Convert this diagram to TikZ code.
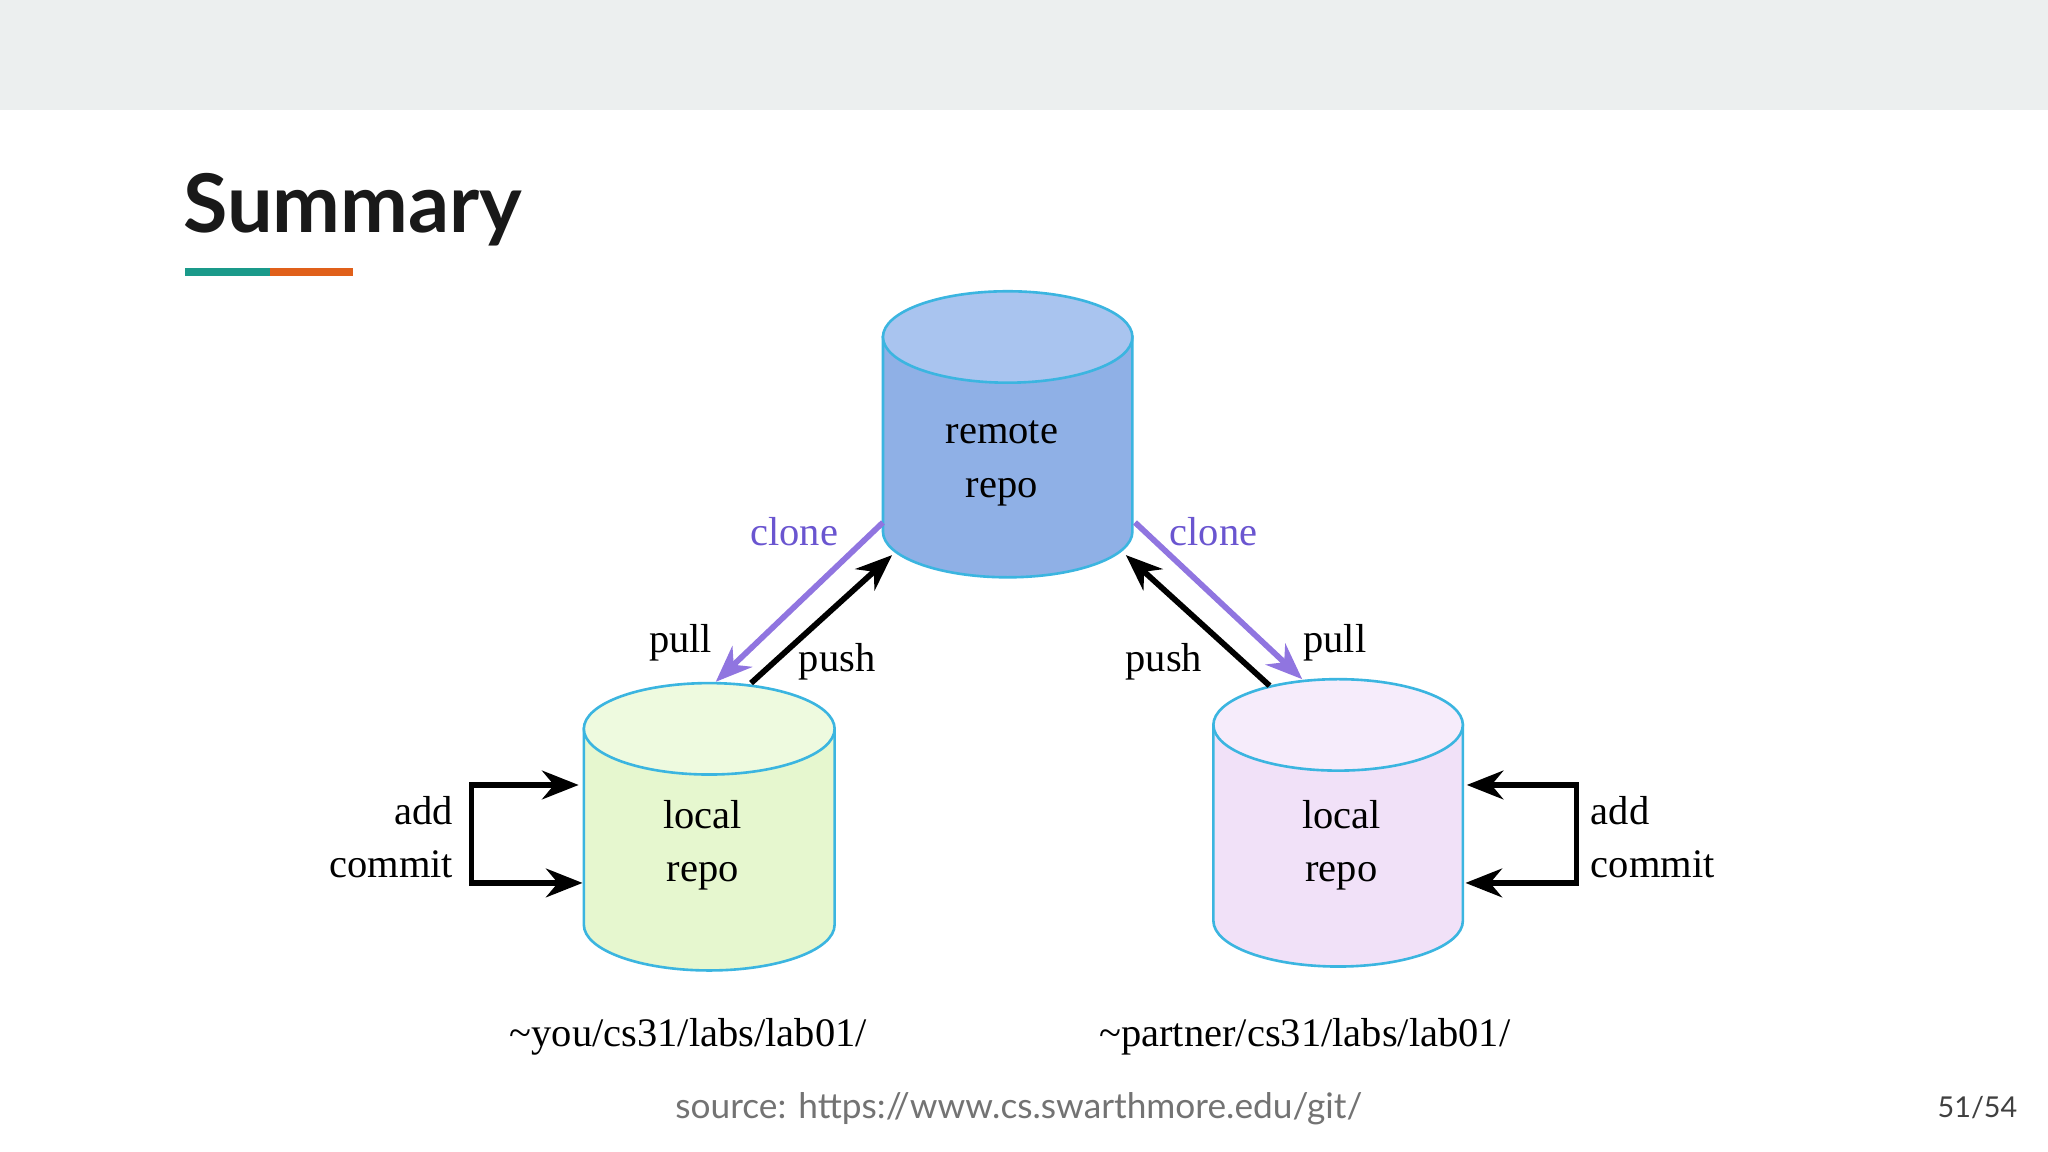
\documentclass[tikz,border=0pt]{standalone}
\usepackage{fontspec}
\setmainfont{Liberation Serif}
\newfontfamily\lato{Lato}
\usetikzlibrary{arrows.meta}
\definecolor{bar}{HTML}{ECEFEF}
\definecolor{teal}{HTML}{1A9A8A}
\definecolor{orng}{HTML}{E0601A}
\definecolor{cyl}{HTML}{3BB5E0}
\definecolor{purp}{HTML}{9075E0}
\definecolor{clonetxt}{HTML}{6A55D0}
\definecolor{remB}{HTML}{8FB0E6}
\definecolor{remT}{HTML}{A9C4EF}
\definecolor{grnB}{HTML}{E6F7CF}
\definecolor{grnT}{HTML}{EEFADF}
\definecolor{pnkB}{HTML}{F1E1F8}
\definecolor{pnkT}{HTML}{F6ECFB}
\begin{document}
\begin{tikzpicture}[x=0.5pt,y=-0.5pt,
  lbl/.style={font=\fontsize{15.5}{17}\selectfont},
  lbl2/.style={font=\fontsize{15.5}{20.5}\selectfont},
  cyltxt/.style={font=\fontsize{15.5}{20.5}\selectfont,align=center},
  pa/.style={purp,line width=2.2pt,-{Stealth[length=14pt,width=11pt]}},
  ba/.style={black,line width=2.2pt,-{Stealth[length=14pt,width=11pt]}},
  loop/.style={black,line width=2pt,{Stealth[length=14pt,width=11pt]}-{Stealth[length=14pt,width=11pt]}}]
\useasboundingbox (0,0) rectangle (1568,882);
\fill[white] (0,0) rectangle (1568,882);
\fill[bar] (0,0) rectangle (1568,84);
\node[anchor=base west,inner sep=0,font=\lato\bfseries\fontsize{31}{34}\selectfont,text=black!90] (title) at (140,178) {Summary};
\fill[teal] (142,205) rectangle (207,211);
\fill[orng] (207,205) rectangle (270,211);
\newcommand\mycyl[6]{%
  \filldraw[draw=cyl,line width=1pt,fill=#5] (#1,#3) -- (#1,#4) arc[start angle=180,end angle=0,x radius={(#2-#1)/2},y radius=35] -- (#2,#3) -- cycle;
  \filldraw[draw=cyl,line width=1pt,fill=#6] ({(#1+#2)/2},#3) ellipse[x radius={(#2-#1)/2},y radius=35];}
\mycyl{676}{867}{258}{407}{remB}{remT}
\mycyl{447}{639}{558}{708}{grnB}{grnT}
\mycyl{929}{1120}{555}{705}{pnkB}{pnkT}
\node[cyltxt] (remote) at (767,355) {remote\\repo};
\node[cyltxt] (localL) at (538,647) {local\\repo};
\node[cyltxt] (localR) at (1027,647) {local\\repo};
\coordinate (rA) at (676,400); \coordinate (lA) at (548,522);
\coordinate (lB) at (575,523); \coordinate (rB) at (683,425);
\coordinate (rC) at (869,400); \coordinate (rD) at (997,520);
\coordinate (rE) at (972,525); \coordinate (rF) at (862,425);
\draw[pa] (rA) -- (lA);
\draw[ba] (lB) -- (rB);
\draw[pa] (rC) -- (rD);
\draw[ba] (rE) -- (rF);
\node[lbl,text=clonetxt] (c1) at (608,407) {clone};
\node[lbl,text=clonetxt] (c2) at (929,407) {clone};
\node[lbl] (p1) at (521,492) {pull};
\node[lbl] (p2) at (641,507) {push};
\node[lbl] (p3) at (891,507) {push};
\node[lbl] (p4) at (1022,492) {pull};
\coordinate (la1) at (443,601); \coordinate (la2) at (446,676);
\coordinate (ra1) at (1123,601); \coordinate (ra2) at (1122,676);
\draw[loop] (la1) -- (361,601) -- (361,676) -- (la2);
\draw[loop] (ra1) -- (1207,601) -- (1207,676) -- (ra2);
\node[lbl2,anchor=east,align=right] (acL) at (354,641) {add\\commit};
\node[lbl2,anchor=west,align=left] (acR) at (1211,641) {add\\commit};
\node[lbl] (pathL) at (527,794) {\~{}you/cs31/labs/lab01/};
\node[lbl] (pathR) at (999,794) {\~{}partner/cs31/labs/lab01/};
\node[font=\lato\fontsize{13.5}{15}\selectfont,text=black!55] (src) at (780,849) {source: https://www.cs.swarthmore.edu/git/};
\node[font=\lato\fontsize{11}{13}\selectfont,text=black!75] (pg) at (1514,848) {51/54};
\end{tikzpicture}
\end{document}
